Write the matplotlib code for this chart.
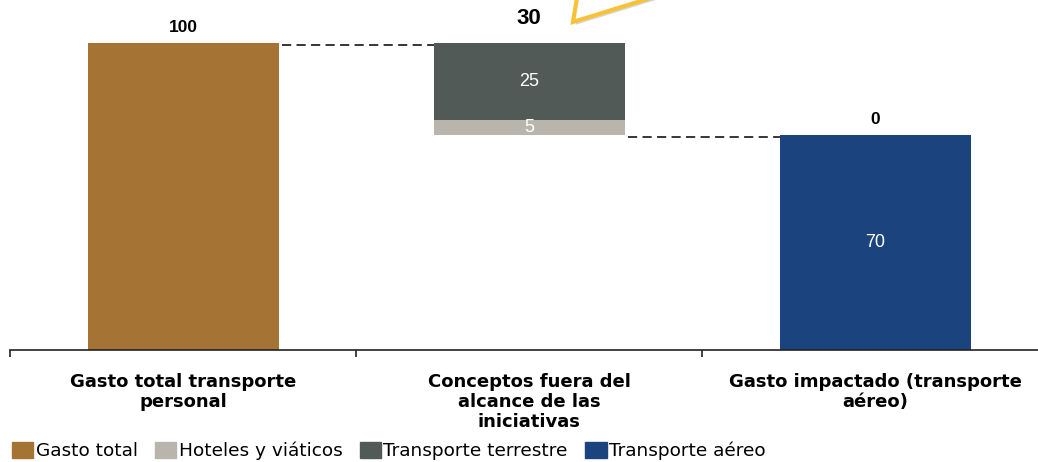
import matplotlib
matplotlib.use('Agg')
import matplotlib.pyplot as plt
import matplotlib.patheffects as pe
from matplotlib.patches import Polygon, Patch

# data
categories = ['Gasto total transporte\npersonal',
              'Conceptos fuera del\nalcance de las\niniciativas',
              'Gasto impactado (transporte\naéreo)']
gasto_total = [100, 0, 0]
hoteles = [0, 5, 0]
terrestre = [0, 25, 0]
aereo = [0, 0, 70]
top_labels = ['100', '30', '0']
legend_labels = ['Gasto total', 'Hoteles y viáticos', 'Transporte terrestre', 'Transporte aéreo']

colors = ['#A57334', '#B9B5AD', '#525A58', '#1B447E']

fig = plt.figure(figsize=(10.38, 4.62), dpi=100)
ax = fig.add_axes([10 / 1038, 112 / 462, 1028 / 1038, 350 / 462])

x = list(range(len(categories)))
w = 0.552
base_mid = gasto_total[0] - hoteles[1] - terrestre[1]

ax.bar(x[0], gasto_total[0], w, color=colors[0])
ax.bar(x[1], hoteles[1], w, bottom=base_mid, color=colors[1])
ax.bar(x[1], terrestre[1], w, bottom=base_mid + hoteles[1], color=colors[2])
ax.bar(x[2], aereo[2], w, color=colors[3])

# segment labels
seg_font = dict(family='Liberation Sans', color='white', fontsize=13, ha='center', va='center')
ax.text(x[1], base_mid + hoteles[1] / 2, str(hoteles[1]), **seg_font)
ax.text(x[1], base_mid + hoteles[1] + terrestre[1] / 2, str(terrestre[1]), **seg_font)
ax.text(x[2], aereo[2] / 2, str(aereo[2]), **seg_font)

# totals above bars
tops = [gasto_total[0], base_mid + hoteles[1] + terrestre[1], aereo[2]]
sizes = [12.5, 16, 12.5]
offs = [6, 10.2, 5.5]
for xi, t, lab, s, o in zip(x, tops, top_labels, sizes, offs):
    ax.annotate(lab, (xi, t), xytext=(0, o), textcoords='offset points',
                ha='center', va='bottom', fontsize=s, fontweight='bold',
                family='Liberation Sans', color='black')

# connectors
ax.plot([x[0] + w / 2 + 0.01, x[1] - w / 2], [99.4, 99.4], ls=(0, (6, 3.5)), color='black', lw=1.1)
ax.plot([x[1] + w / 2 + 0.01, x[2] - w / 2], [69.3, 69.3], ls=(0, (6, 3.5)), color='black', lw=1.1)

ax.set_xlim(-0.5, 2.47)
ax.set_ylim(0, 114)
for s in ['top', 'right', 'left']:
    ax.spines[s].set_visible(False)
ax.spines['bottom'].set_color('#222222')
ax.spines['bottom'].set_linewidth(1.2)
ax.set_yticks([])
ax.set_xticks([-0.5, 0.5, 1.5])
ax.set_xticklabels([])
ax.tick_params(axis='x', length=5, width=1.2, color='#222222')
for xi, lab in zip(x, categories):
    ax.text(xi, -7.6, lab, ha='center', va='top', fontsize=13, fontweight='bold',
            family='DejaVu Sans', linespacing=1.12)

# yellow callout
tri = Polygon([[573, 440], [578, 470], [670, 470]], closed=True, transform=None,
              facecolor='white', edgecolor='#F7C235', lw=3, clip_on=False,
              path_effects=[pe.SimplePatchShadow(offset=(2, -2), shadow_rgbFace='#BBBBBB', alpha=0.6), pe.Normal()])
fig.patches.append(tri)

handles = [Patch(color=c) for c in colors]
fig.legend(handles, legend_labels, loc='lower left', bbox_to_anchor=(0.001, -0.02), ncol=4,
           frameon=False, prop={'family': 'DejaVu Sans', 'size': 13.3},
           handlelength=1.15, handleheight=0.95, handletextpad=0.12, columnspacing=0.95,
           borderaxespad=0.2)

fig.savefig('out.png', dpi=100)
